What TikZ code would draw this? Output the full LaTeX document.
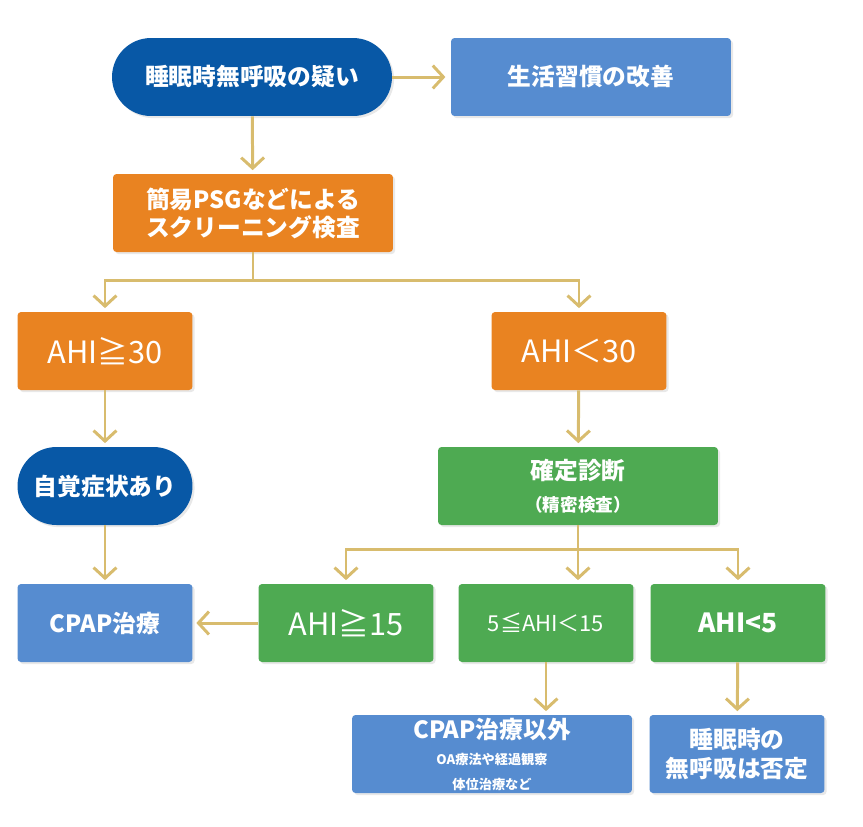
\documentclass[tikz,border=0pt]{standalone}
\usepackage{fontspec}
\setmainfont{Noto Sans CJK JP}
\usetikzlibrary{arrows.meta,shadows}

\definecolor{navy}{RGB}{8,88,166}
\definecolor{sky}{RGB}{86,140,208}
\definecolor{amber}{RGB}{233,131,33}
\definecolor{leaf}{RGB}{78,170,82}
\definecolor{gold}{RGB}{216,188,110}

\newcommand{\txtM}{\fontsize{13.5pt}{17pt}\selectfont}
\newcommand{\txtL}{\fontsize{17.5pt}{20pt}\selectfont}
\newcommand{\txtS}{\fontsize{10pt}{12pt}\selectfont}
\newcommand{\txtXS}{\fontsize{7.5pt}{9.5pt}\selectfont}

\tikzset{
  card/.style={rectangle, rounded corners=2pt, text=white, align=center, inner sep=0pt,
    minimum height=1.56cm, font=\txtM,
    drop shadow={shadow xshift=1.2pt, shadow yshift=-1.2pt, opacity=0.18}},
  wide/.style={minimum width=5.6cm},
  narrow/.style={minimum width=3.5cm},
  pill/.style={card, fill=navy, rounded corners=0.78cm},
  skybox/.style={card, fill=sky},
  amberbox/.style={card, fill=amber},
  leafbox/.style={card, fill=leaf},
  link/.style={draw=gold, line width=1.7pt, -{Straight Barb[length=6pt,width=13pt,line width=1.7pt]}},
  trunk/.style={draw=gold, line width=1.7pt}
}

\begin{document}
\begin{tikzpicture}[x=0.02cm,y=-0.02cm]
  \useasboundingbox (0,0) rectangle (863,826);

  % upper part
  \node[pill, wide] (doubt) at (252,77) {\bfseries 睡眠時無呼吸の疑い};
  \node[skybox, wide] (life) at (591,77) {\bfseries 生活習慣の改善};
  \node[amberbox, wide] (psg) at (253,213) {\bfseries 簡易PSGなどによる\\[-1pt]\bfseries スクリーニング検査};
  \node[amberbox, narrow] (hi30) at (105,351) {\txtL AHI≧30};
  \node[amberbox, narrow] (lo30) at (579,351) {\txtL AHI＜30};

  % left branch
  \node[pill, narrow] (symp) at (105,486) {\bfseries 自覚症状あり};
  \node[skybox, narrow] (cpap) at (105,623) {\bfseries CPAP治療};

  % right branch
  \node[leafbox, wide] (diag) at (578,486) {\bfseries 確定診断\\[1pt]{\txtS\bfseries （精密検査）}};
  \node[leafbox, narrow] (hi15) at (346,623) {\txtL AHI≧15};
  \node[leafbox, narrow] (mid) at (546,623) {\fontsize{12.5pt}{15pt}\selectfont 5≦AHI＜15};
  \node[leafbox, narrow] (lo5) at (738,623) {\fontsize{15pt}{18pt}\selectfont\bfseries AHI<5};
  \node[skybox, wide] (other) at (492,754) {\bfseries CPAP治療以外\\[-2pt]{\txtXS\bfseries OA療法や経過観察}\\[-3pt]{\txtXS\bfseries 体位治療など}};
  \node[skybox, narrow] (deny) at (737,754) {\bfseries 睡眠時の\\[-1pt]\bfseries 無呼吸は否定};

  \coordinate (fork1) at (253,280);
  \coordinate (fork2) at (578,549);

  \begin{scope}[every edge/.style={link}]
    \path (doubt) edge[shorten >=3pt] (life);
    \path (doubt) edge[shorten >=2pt] (psg);
    \path (hi30) edge[shorten >=2pt] (symp);
    \path (symp) edge[shorten >=2pt] (cpap);
    \path (lo30) edge[shorten >=2pt] (diag);
    \path (hi15) edge[shorten >=2pt] (cpap);
    \path (mid.south) edge[shorten >=2pt] (mid.south |- other.north);
    \path (lo5) edge[shorten >=2pt] (deny);
  \end{scope}

  \draw[trunk] (psg) -- (fork1);
  \draw[link, shorten >=2pt] (fork1) -| (hi30);
  \draw[link, shorten >=2pt] (fork1) -| (lo30);
  \draw[trunk] (diag) -- (fork2);
  \draw[link, shorten >=2pt] (fork2) -| (hi15);
  \draw[link, shorten >=2pt] (fork2) -- (fork2 |- mid.north);
  \draw[link, shorten >=2pt] (fork2) -| (lo5);
\end{tikzpicture}
\end{document}
